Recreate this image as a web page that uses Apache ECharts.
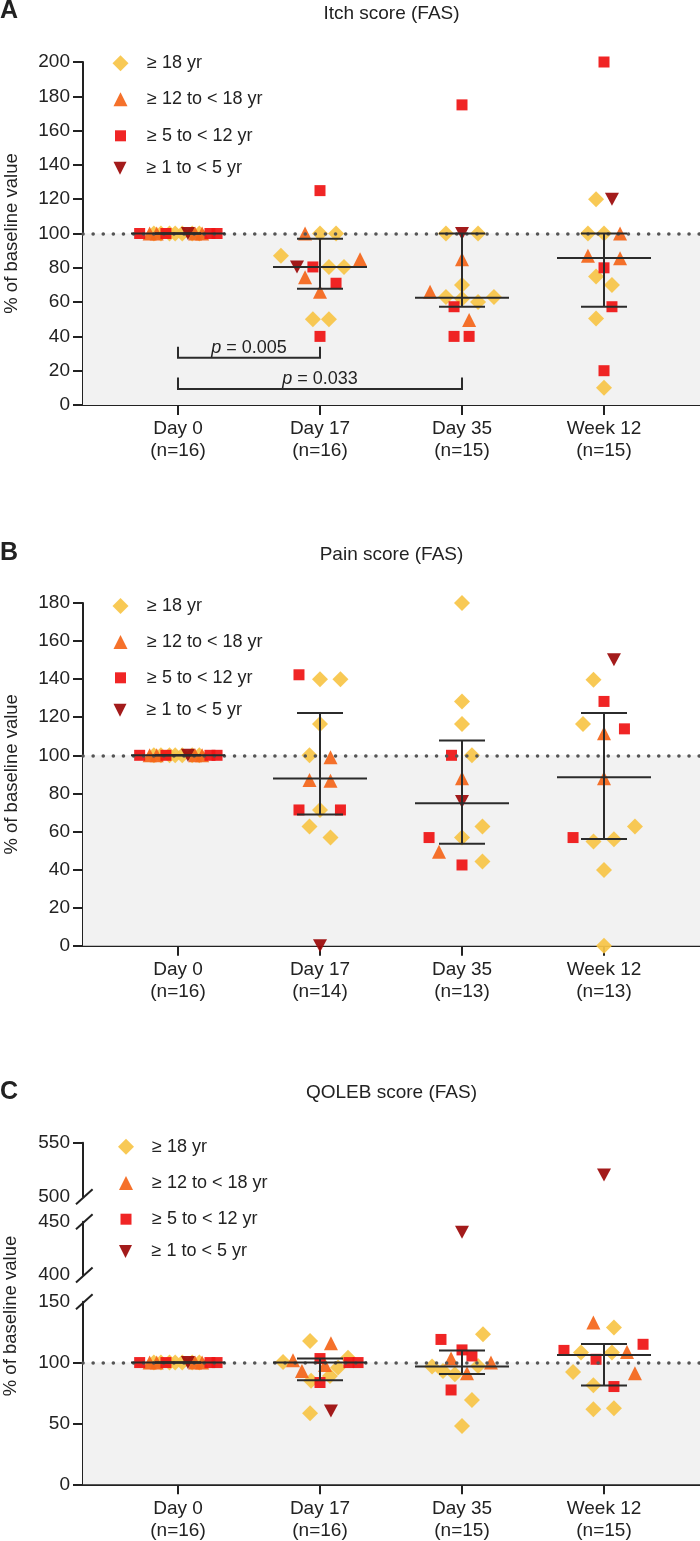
<!DOCTYPE html>
<html>
<head>
<meta charset="utf-8">
<script src="https://cdn.jsdelivr.net/npm/echarts@6/dist/echarts.min.js"></script>
<style>
html,body{margin:0;padding:0;background:#fff;}
#chart{width:700px;height:1541px;}
</style>
</head>
<body>
<div id="chart"></div>
<script>
// ---------------- data ----------------
const days = ['Day 0', 'Day 17', 'Day 35', 'Week 12'];
const groups = ['≥ 18 yr', '≥ 12 to < 18 yr', '≥ 5 to < 12 yr', '≥ 1 to < 5 yr'];
const nItch = [16, 16, 15, 15];
const nPain = [16, 14, 13, 13];
const nQoleb = [16, 16, 15, 15];

// points: [dayIndex, % of baseline, horizontal jitter (in day units)]
const day0Adult = [[0,100,-0.17],[0,100,-0.12],[0,100,-0.06],[0,100,-0.02],[0,100,0.03],[0,100,0.1],[0,100,0.15]];
const day0Teen = [[0,100,-0.2],[0,100,-0.15],[0,100,0.12],[0,100,0.17]];
const day0Child = [[0,100,-0.27],[0,100,-0.085],[0,100,0.225],[0,100,0.275]];
const day0Toddler = [[0,100,0.07]];

const itchAdult = [...day0Adult,
  [1,100,0],[1,100,0.113],[1,87,-0.275],[1,80.5,0.063],[1,80.5,0.169],[1,50,-0.05],[1,50,0.063],
  [2,100,-0.113],[2,100,0.113],[2,70,0],[2,63,-0.113],[2,60,0.113],[2,63,0.225],[2,62,0],
  [3,120,-0.056],[3,100,-0.113],[3,100,0],[3,75,-0.056],[3,70,0.056],[3,50.5,-0.056],[3,10,0]];
const itchTeen = [...day0Teen,
  [1,100,-0.105],[1,85,0.282],[1,74.5,-0.105],[1,66,0],
  [2,85,0],[2,66,-0.225],[2,49.6,0.05],
  [3,100,0.113],[3,87,-0.113],[3,85.5,0.113]];
const itchChild = [...day0Child,
  [1,125,0],[1,80.5,-0.05],[1,71,0.113],[1,40,0],
  [2,175,0],[2,57.3,-0.056],[2,40,-0.056],[2,40,0.05],
  [3,200,0],[3,80,0],[3,57.3,0.056],[3,20,0]];
const itchToddler = [...day0Toddler, [1,80.5,-0.162],[2,100,0],[3,120,0.056]];
const itchMedian = [100, 80.5, 62.6, 85.7];
const itchQ1 = [100, 67.8, 57.3, 57.3];
const itchQ3 = [100, 97, 100, 100];
// brackets: [fromDay, toDay, lineValue, tickTopValue]
const itchBrackets = [[0, 1, 27.6, 34], [0, 2, 9.3, 16]];
const itchPValues = ['0.005', '0.033'];

const painAdult = [...day0Adult,
  [1,140,0],[1,140,0.144],[1,116.4,0],[1,100,-0.074],[1,71.3,0],[1,62.6,-0.074],[1,56.8,0.074],
  [2,180,0],[2,128.3,0],[2,116.4,0],[2,100,0.07],[2,62.6,0.144],[2,56.8,0],[2,44.2,0.144],
  [3,139.7,-0.074],[3,116.4,-0.148],[3,62.6,0.218],[3,54.7,-0.074],[3,55.9,0.07],[3,39.8,0],[3,0,0]];
const painTeen = [...day0Teen,
  [1,99,0.074],[1,87,-0.074],[1,86.7,0.074],
  [2,88,0],[2,49.4,-0.162],
  [3,111.6,0],[3,88,0]];
const painChild = [...day0Child,
  [1,142.3,-0.148],[1,71.3,-0.148],[1,71.3,0.144],
  [2,100,-0.074],[2,56.8,-0.232],[2,42.4,0],
  [3,128.3,0],[3,113.9,0.144],[3,56.8,-0.218]];
const painToddler = [...day0Toddler, [1,0,0],[2,75.7,0],[3,150.2,0.07]];
const painMedian = [100, 87.8, 74.8, 88.5];
const painQ1 = [100, 68.9, 53.5, 56.1];
const painQ3 = [100, 122.2, 107.8, 122.2];

const qolAdult = [...day0Adult,
  [1,117.7,-0.07],[1,100.5,-0.26],[1,104,0.197],[1,96,0.127],[1,89,0.07],[1,85,-0.063],[1,58.3,-0.07],
  [2,123.3,0.148],[2,96.7,-0.211],[2,93,-0.134],[2,90.4,-0.05],[2,97.2,0.113],[2,69.3,0.07],[2,47.9,0],
  [3,128.8,0.07],[3,108.2,-0.162],[3,108.2,0.056],[3,92.3,-0.218],[3,81.3,-0.075],[3,61.6,-0.075],[3,62.4,0.07]];
const qolTeen = [...day0Teen,
  [1,115.9,0.077],[1,102,-0.19],[1,93,-0.127],[1,98,0.035],
  [2,103.3,-0.077],[2,100,0.204],[2,91.2,0.035],
  [3,132.9,-0.075],[3,108.7,0.162],[3,91.2,0.218]];
const qolChild = [...day0Child,
  [1,103.3,0],[1,100,0.204],[1,100,0.268],[1,83.6,0],
  [2,119,-0.148],[2,110.4,0],[2,105.4,0.07],[2,77.5,-0.077],
  [3,115,0.275],[3,110,-0.282],[3,102.7,-0.056],[3,80.3,0.07]];
const qolToddler = [...day0Toddler, [1,60.2,0.077],[2,440,0],[3,520,0]];
const qolMedian = [100, 100, 96.7, 106.3];
const qolQ1 = [100, 85.5, 90.7, 81.1];
const qolQ3 = [100, 103.3, 109.9, 115.3];

const itchTicks = [0,20,40,60,80,100,120,140,160,180,200];
const painTicks = [0,20,40,60,80,100,120,140,160,180];
const qolLowerTicks = [0,50,100,150];
const qolMidTicks = [400,450];
const qolUpperTicks = [500,550];

// ---------------- style ----------------
const FONT = '"Liberation Sans", Arial, Helvetica, sans-serif';
const INK = '#222';
const COLORS = ['#F8C548', '#F4661B', '#EF1414', '#9C0A0A'];
const SYMBOLS = ['diamond', 'triangle', 'rect', 'path://M0,0L10,0L5,10Z'];
const SIZES = [[16,16],[14,14],[11,11],[14,13]];
const XMIN = -0.669, XMAX = 3.676;
const AXIS_FS = 19;

const grids = [
  {left: 83, right: 0, top: 62, height: 343},        // A
  {left: 83, right: 0, top: 603, height: 342.7},     // B
  {left: 83, right: 0, top: 1142.7, height: 54},     // C upper
  {left: 83, right: 0, top: 1221.7, height: 53.3},   // C middle
  {left: 83, right: 0, top: 1301.7, height: 182.6}   // C lower
].map(g => Object.assign(g, {containLabel: false, outerBoundsMode: 'none'}));

function xAxisFor(gridIndex, nArr) {
  const show = !!nArr;
  return {
    type: 'value', gridIndex, min: XMIN, max: XMAX,
    splitLine: {show: false},
    axisLine: {show: show, onZero: false, lineStyle: {color: INK, width: 2}},
    axisTick: {show: show, length: 10, customValues: [0,1,2,3], lineStyle: {color: INK, width: 2}},
    axisLabel: {
      show: show, customValues: [0,1,2,3], margin: 13,
      fontFamily: FONT, fontSize: AXIS_FS, color: INK, lineHeight: 22,
      formatter: v => show ? days[Math.round(v)] + '\n(n=' + nArr[Math.round(v)] + ')' : ''
    }
  };
}
function yAxisFor(gridIndex, ticks, tickValues, name) {
  return {
    type: 'value', gridIndex, min: ticks[0], max: ticks[ticks.length - 1],
    name: name || '', nameLocation: 'middle', nameGap: 62,
    nameTextStyle: {fontFamily: FONT, fontSize: 18.5, color: INK},
    splitLine: {show: false},
    axisLine: {show: true, onZero: false, lineStyle: {color: INK, width: 2}},
    axisTick: {show: tickValues.length > 0, length: 10, customValues: tickValues, lineStyle: {color: INK, width: 2}},
    axisLabel: {customValues: ticks, margin: 13, fontFamily: FONT, fontSize: AXIS_FS, color: INK}
  };
}

const xAxes = [
  xAxisFor(0, nItch), xAxisFor(1, nPain), xAxisFor(2, null), xAxisFor(3, null), xAxisFor(4, nQoleb)
];
const yAxes = [
  yAxisFor(0, itchTicks, itchTicks, '% of baseline value'),
  yAxisFor(1, painTicks, painTicks, '% of baseline value'),
  yAxisFor(2, qolUpperTicks, [550]),
  yAxisFor(3, qolMidTicks, []),
  yAxisFor(4, qolLowerTicks, [0,50,100])
];

const series = [];

function backgroundSeries(axisIndex) {
  series.push({
    type: 'scatter', xAxisIndex: axisIndex, yAxisIndex: axisIndex, data: [], z: 0, silent: true,
    markArea: {silent: true, itemStyle: {color: '#F2F2F2'},
      data: [[{xAxis: XMIN, yAxis: 0}, {xAxis: XMAX, yAxis: 100}]]}
  });
  series.push({
    type: 'scatter', xAxisIndex: axisIndex, yAxisIndex: axisIndex, data: [], z: 1, silent: true,
    markLine: {silent: true, symbol: 'none', label: {show: false},
      lineStyle: {color: '#555555', width: 3.5, type: [0.1, 10], cap: 'round'},
      data: [{yAxis: 100}]}
  });
}

function pointSeries(axisIndex, groupArrays, lo, hi) {
  groupArrays.forEach((arr, g) => {
    const pts = arr.filter(p => p[1] >= lo && p[1] <= hi).map(p => [p[0] + p[2], p[1]]);
    if (!pts.length) return;
    series.push({
      name: groups[g], type: 'scatter', xAxisIndex: axisIndex, yAxisIndex: axisIndex,
      symbol: SYMBOLS[g], symbolSize: SIZES[g], z: 2 + g * 0.01,
      itemStyle: {color: COLORS[g], opacity: 0.93},
      data: pts
    });
  });
}

function summarySeries(axisIndex, med, q1, q3) {
  series.push({
    type: 'custom', xAxisIndex: axisIndex, yAxisIndex: axisIndex, z: 5, silent: true, clip: false,
    data: days.map((d, i) => [i, med[i], q1[i], q3[i]]),
    renderItem: function (params, api) {
      const x = api.value(0);
      const c = api.coord([x, api.value(1)]);
      const l = api.coord([x, api.value(2)]);
      const h = api.coord([x, api.value(3)]);
      const st = {stroke: '#2b2b2b', lineWidth: 2};
      return {type: 'group', children: [
        {type: 'line', shape: {x1: c[0] - 47, y1: c[1], x2: c[0] + 47, y2: c[1]}, style: st},
        {type: 'line', shape: {x1: c[0], y1: l[1], x2: c[0], y2: h[1]}, style: st},
        {type: 'line', shape: {x1: c[0] - 23, y1: l[1], x2: c[0] + 23, y2: l[1]}, style: st},
        {type: 'line', shape: {x1: c[0] - 23, y1: h[1], x2: c[0] + 23, y2: h[1]}, style: st}
      ]};
    }
  });
}

// Panel A
backgroundSeries(0);
pointSeries(0, [itchAdult, itchTeen, itchChild, itchToddler], 0, 200);
summarySeries(0, itchMedian, itchQ1, itchQ3);
series.push({
  type: 'custom', xAxisIndex: 0, yAxisIndex: 0, z: 6, silent: true, clip: false,
  data: itchBrackets,
  renderItem: function (params, api) {
    const a = api.coord([api.value(0), api.value(2)]);
    const b = api.coord([api.value(1), api.value(2)]);
    const t = api.coord([api.value(0), api.value(3)]);
    return {type: 'group', children: [
      {type: 'polyline', shape: {points: [[a[0], t[1]], [a[0], a[1]], [b[0], b[1]], [b[0], t[1]]]},
        style: {stroke: '#2b2b2b', lineWidth: 2, fill: null}},
      {type: 'text', x: (a[0] + b[0]) / 2, y: a[1] - 1,
        style: {text: '{i|p} = ' + itchPValues[params.dataIndex],
          rich: {i: {fontStyle: 'italic', fontFamily: FONT, fontSize: 18, fill: INK}},
          fontFamily: FONT, fontSize: 18, fill: INK, align: 'center', verticalAlign: 'bottom'}}
    ]};
  }
});

// Panel B
backgroundSeries(1);
pointSeries(1, [painAdult, painTeen, painChild, painToddler], 0, 180);
summarySeries(1, painMedian, painQ1, painQ3);

// Panel C (broken axis: three segments)
backgroundSeries(4);
const qolGroups = [qolAdult, qolTeen, qolChild, qolToddler];
pointSeries(4, qolGroups, 0, 150);
pointSeries(3, qolGroups, 400, 450);
pointSeries(2, qolGroups, 500, 550);
summarySeries(4, qolMedian, qolQ1, qolQ3);

// legends (one component per entry so each icon keeps its own size)
function legendsFor(cx, cys, textStart) {
  return groups.map((g, i) => ({
    data: [{name: g, icon: SYMBOLS[i]}],
    orient: 'vertical', padding: 0, selectedMode: false,
    left: cx - SIZES[i][0] / 2, top: cys[i] - SIZES[i][1] / 2,
    itemWidth: SIZES[i][0], itemHeight: SIZES[i][1],
    textStyle: {fontFamily: FONT, fontSize: 18, color: INK,
      padding: [0, 0, 0, textStart - cx - SIZES[i][0] / 2 - 5]}
  }));
}
const legends = [
  ...legendsFor(120.5, [62.3, 97.3, 132.3, 165.7], 147),
  ...legendsFor(120.5, [605, 640, 674.3, 707.7], 147),
  ...legendsFor(126, [1145.7, 1181, 1215.7, 1249], 152)
];

// decorations: panel letters, titles, axis-break marks, C axis name
function txt(x, y, text, size, weight, align) {
  return {type: 'text', x, y, silent: true,
    style: {text, fontFamily: FONT, fontSize: size, fontWeight: weight || 'normal', fill: INK,
      align: align || 'center', verticalAlign: 'middle'}};
}
const graphics = [
  txt(0, 11.5, 'A', 25, 'bold', 'left'),
  txt(0, 553, 'B', 25, 'bold', 'left'),
  txt(0, 1092, 'C', 25, 'bold', 'left'),
  txt(391.5, 13.5, 'Itch score (FAS)', 19),
  txt(391.5, 555, 'Pain score (FAS)', 19),
  txt(391.5, 1093, 'QOLEB score (FAS)', 19),
  {type: 'text', x: 11, y: 1316, rotation: Math.PI / 2, silent: true,
    style: {text: '% of baseline value', fontFamily: FONT, fontSize: 18.5, fill: INK, align: 'center', verticalAlign: 'middle'}}
];
[grids[2].top + grids[2].height, grids[3].top, grids[3].top + grids[3].height, grids[4].top].forEach(y => {
  graphics.push({type: 'line', silent: true, z: 100,
    shape: {x1: 84.3 - 8.3, y1: y + 7.5, x2: 84.3 + 8.3, y2: y - 7.5},
    style: {stroke: INK, lineWidth: 2}});
});

const chart = echarts.init(document.getElementById('chart'), null, {renderer: 'canvas'});
chart.setOption({
  backgroundColor: '#ffffff',
  animation: false,
  textStyle: {fontFamily: FONT},
  grid: grids,
  xAxis: xAxes,
  yAxis: yAxes,
  legend: legends,
  graphic: graphics,
  series: series
});
</script>
</body>
</html>
